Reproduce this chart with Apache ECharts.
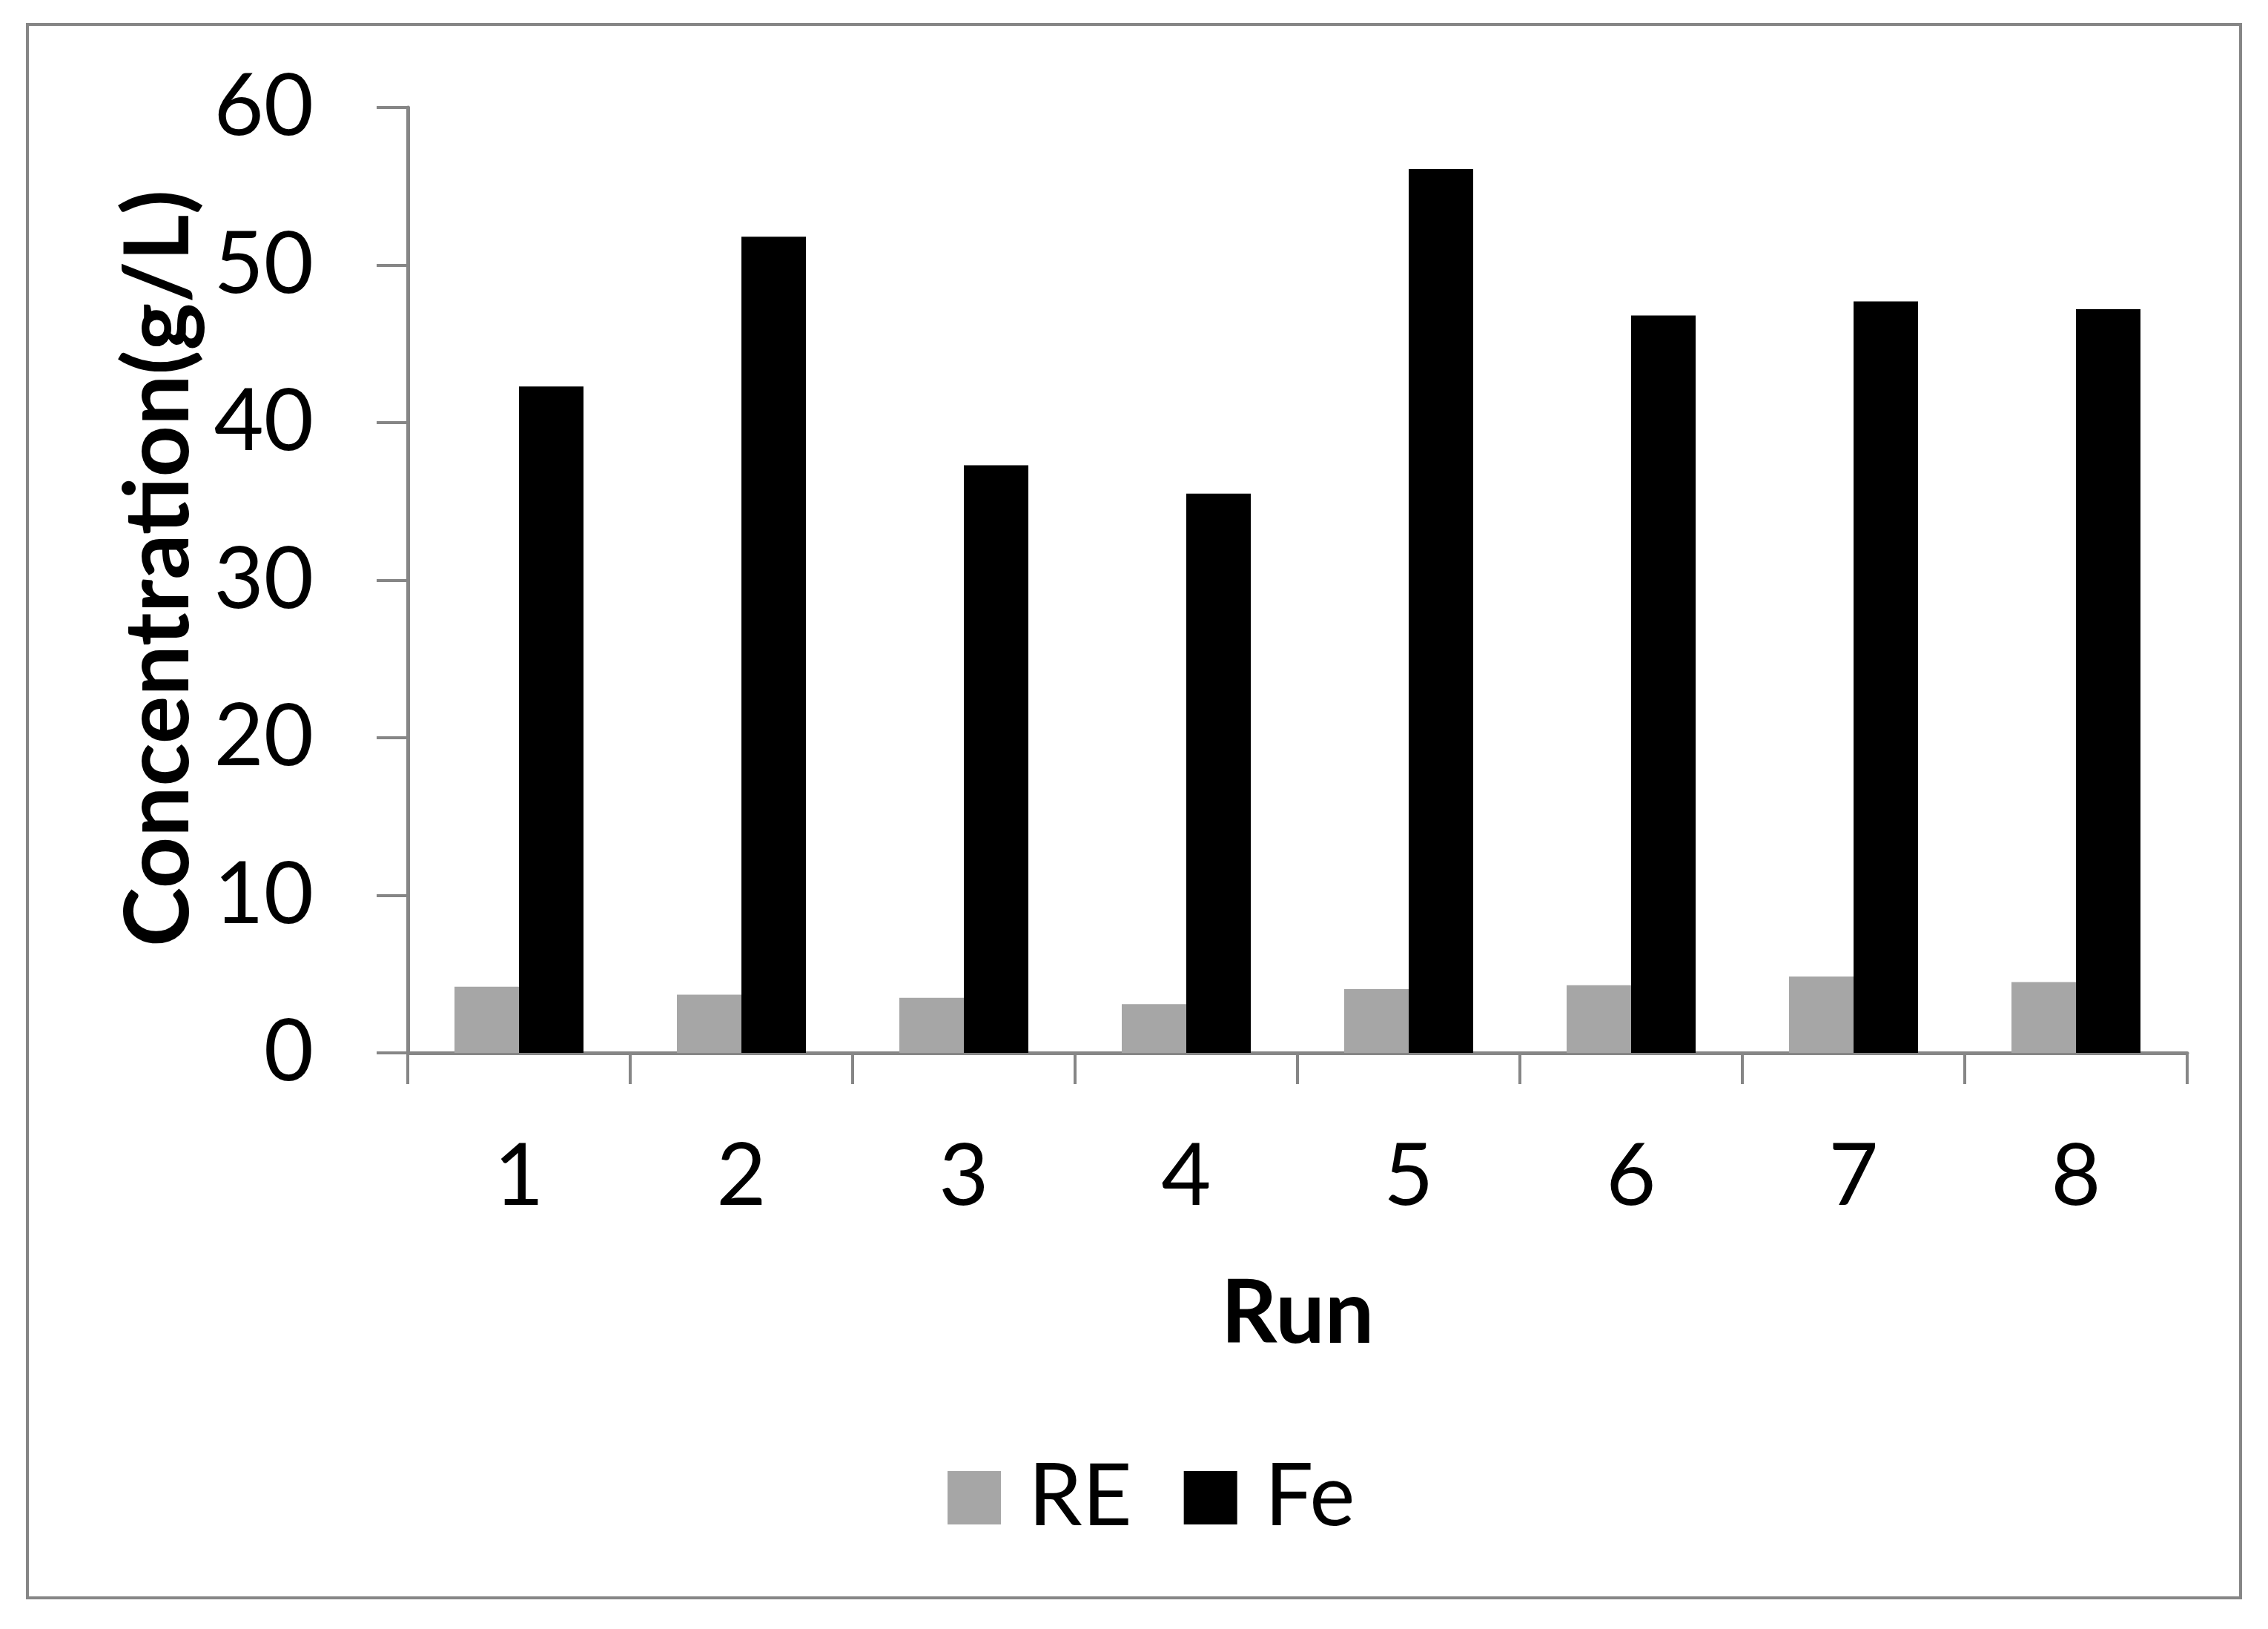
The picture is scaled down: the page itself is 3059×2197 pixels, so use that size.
<!DOCTYPE html>
<html>
<head>
<meta charset="utf-8">
<script src="https://cdn.jsdelivr.net/npm/echarts@6/dist/echarts.min.js"></script>
<style>
html,body{margin:0;padding:0;background:#fff;}
#chart{width:3059px;height:2197px;}
</style>
</head>
<body>
<div id="chart"></div>
<script>
const categories = ['1','2','3','4','5','6','7','8'];
const reValues = [4.2, 3.7, 3.5, 3.1, 4.05, 4.3, 4.85, 4.5];
const feValues = [42.3, 51.8, 37.3, 35.5, 56.1, 46.8, 47.7, 47.2];
const seriesNames = ['RE', 'Fe'];
const yTicks = {min: 0, max: 60, interval: 10};

const axisGray = '#868686';
const FONT = 'Lato';

const chart = echarts.init(document.getElementById('chart'), null, {renderer: 'canvas'});
chart.setOption({
  backgroundColor: '#ffffff',
  animation: false,
  graphic: [{
    type: 'rect',
    shape: {x: 37, y: 33, width: 2985, height: 2122},
    style: {fill: 'none', stroke: axisGray, lineWidth: 4},
    silent: true
  }],
  grid: {left: 550, right: 109, top: 145, bottom: 777, containLabel: false},
  legend: {
    data: seriesNames,
    left: 1278,
    top: 1962,
    padding: 0,
    itemWidth: 72,
    itemHeight: 72,
    itemGap: 70,
    icon: 'rect',
    textStyle: {fontFamily: FONT, fontSize: 116, color: '#000', padding: [0, 0, 0, 32]}
  },
  xAxis: {
    type: 'category',
    data: categories,
    boundaryGap: true,
    name: 'Run',
    nameLocation: 'middle',
    nameGap: 294,
    nameTextStyle: {fontFamily: FONT, fontWeight: 'bold', fontSize: 118, color: '#000'},
    axisLine: {show: true, lineStyle: {color: axisGray, width: 5}},
    axisTick: {show: true, length: 42, alignWithLabel: false, lineStyle: {color: axisGray, width: 4}},
    axisLabel: {fontFamily: FONT, fontSize: 116, color: '#000', margin: 110},
    splitLine: {show: false}
  },
  yAxis: {
    type: 'value',
    min: yTicks.min,
    max: yTicks.max,
    interval: yTicks.interval,
    name: 'Concentration(g/L)',
    nameLocation: 'middle',
    nameGap: 275,
    nameRotate: 90,
    nameTextStyle: {fontFamily: FONT, fontWeight: 'bold', fontSize: 121, color: '#000', padding: [0, 0, 0, 32]},
    axisLine: {show: true, lineStyle: {color: axisGray, width: 5}},
    axisTick: {show: true, length: 42, lineStyle: {color: axisGray, width: 4}},
    axisLabel: {fontFamily: FONT, fontSize: 116, color: '#000', margin: 127},
    splitLine: {show: false}
  },
  series: [
    {name: seriesNames[0], type: 'bar', data: reValues, barWidth: 87, barGap: '0%',
     itemStyle: {color: '#a6a6a6'}},
    {name: seriesNames[1], type: 'bar', data: feValues, barWidth: 87, barGap: '0%',
     itemStyle: {color: '#000000'}}
  ]
});
</script>
</body>
</html>
